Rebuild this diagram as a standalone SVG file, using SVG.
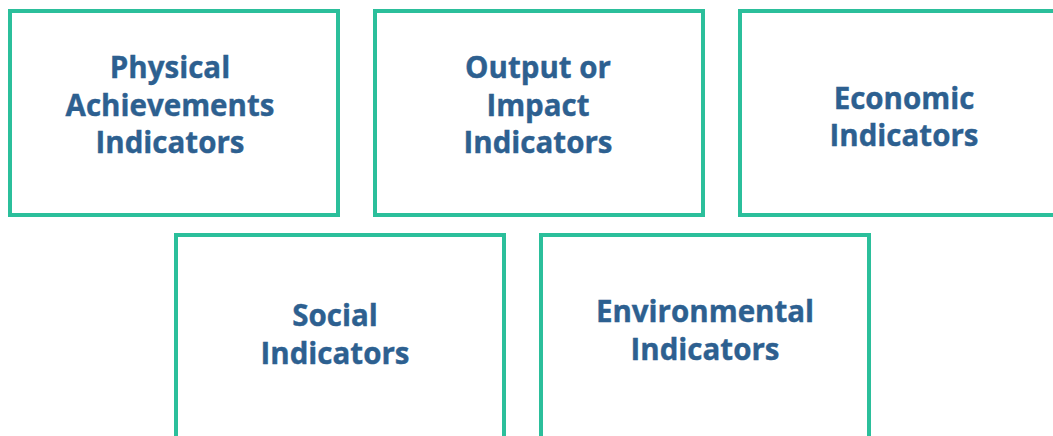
<svg xmlns="http://www.w3.org/2000/svg" width="1053" height="436" viewBox="0 0 1053 436">
<style>
.box{fill:#ffffff;stroke:#2bbf9b;stroke-width:4}
.t{font-family:"Open Sans","Liberation Sans",sans-serif;font-weight:bold;font-size:29.5px;fill:#2d6090;text-anchor:middle;stroke:#2d6090;stroke-width:0.4}
</style>
<rect width="1053" height="436" fill="#ffffff"/>
<g id="connectors"/>
<g id="node-physical">
<rect class="box" x="10" y="11" width="328" height="204"/>
<text class="t" x="170" y="78">Physical</text>
<text class="t" x="170" y="116">Achievements</text>
<text class="t" x="170" y="153">Indicators</text>
</g>
<g id="node-output">
<rect class="box" x="375" y="11" width="328" height="204"/>
<text class="t" x="538" y="78">Output or</text>
<text class="t" x="538" y="116">Impact</text>
<text class="t" x="538" y="153">Indicators</text>
</g>
<g id="node-economic">
<rect class="box" x="740" y="11" width="328" height="204"/>
<text class="t" x="904" y="109">Economic</text>
<text class="t" x="904" y="146">Indicators</text>
</g>
<g id="node-social">
<rect class="box" x="176" y="235" width="328" height="220"/>
<text class="t" x="335" y="326">Social</text>
<text class="t" x="335" y="364">Indicators</text>
</g>
<g id="node-environmental">
<rect class="box" x="541" y="235" width="328" height="220"/>
<text class="t" x="705" y="322">Environmental</text>
<text class="t" x="705" y="360">Indicators</text>
</g>
</svg>
